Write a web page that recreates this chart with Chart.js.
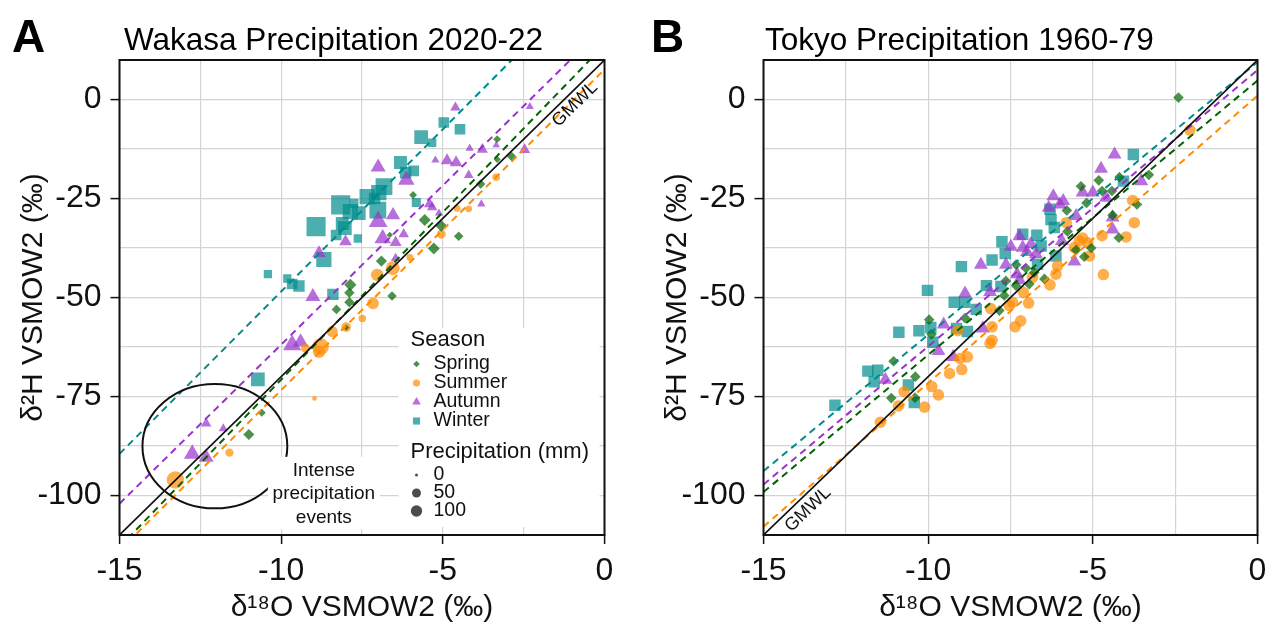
<!DOCTYPE html>
<html>
<head>
<meta charset="utf-8">
<script src="https://cdn.jsdelivr.net/npm/chart.js@4.4.0/dist/chart.umd.min.js"></script>
<style>
  html, body { margin: 0; padding: 0; background: #fff; }
  #wrap { position: relative; width: 1278px; height: 627px; overflow: hidden; }
  canvas { position: absolute; top: 0; }
  #chartA { left: 0; }
  #chartB { left: 640px; }
</style>
</head>
<body>
<div id="wrap">
  <canvas id="chartA" width="635" height="627"></canvas>
  <canvas id="chartB" width="638" height="627"></canvas>
</div>
<script>
/* d18O / d2H scatter, Wakasa 2020-22 vs Tokyo 1960-79 */

const FONT = '"Liberation Sans", Arial, Helvetica, sans-serif';

const seasons = ['Spring', 'Summer', 'Autumn', 'Winter'];
const seasonFill = ['rgba(0,100,0,0.7)', 'rgba(255,140,0,0.7)', 'rgba(153,50,204,0.7)', 'rgba(0,139,139,0.7)'];
const seasonLine = ['#006400', '#ff8c00', '#9932cc', '#008b8b'];
const seasonShape = ['rectRot', 'circle', 'triangle', 'rect'];

const xLimits = [-15, 0];
const yLimits = [-110, 10];
const sizeBreaks = [0, 50, 100];

// global meteoric water line d2H = 8 d18O + 10
const gmwlSlope = 8;
const gmwlIntercept = 10;

/* Wakasa (panel A): d18O, d2H, precipitation mm */
const wakSpringO = [-3.32, -3.32, -2.87, -3.83, -5.92, -5.56, -5.05, -4.51, -5.28, -6.64, -6.9, -7.86, -7.89, -7.89, -6.57, -8.29, -7.99, -10.6, -11.0];
const wakSpringH = [-10.0, -15.1, -14.4, -21.3, -24.1, -30.4, -31.9, -34.5, -37.6, -34.2, -40.8, -46.8, -48.8, -51.2, -49.6, -53.0, -57.6, -79.1, -84.6];
const wakSpringP = [44, 32, 77, 77, 44, 141, 141, 77, 141, 21, 117, 150, 96, 96, 77, 77, 21, 44, 117];

const wakSummerO = [-3.35, -4.2, -4.56, -5.05, -6.02, -6.55, -7.03, -7.16, -7.49, -7.99, -8.42, -8.78, -8.83, -9.25, -8.97, -11.6, -13.27];
const wakSummerH = [-19.6, -27.6, -27.5, -34.0, -39.9, -42.6, -44.3, -51.5, -55.3, -57.5, -58.6, -62.4, -63.7, -62.8, -75.5, -89.2, -96.1];
const wakSummerP = [29, 21, 21, 50, 21, 167, 127, 108, 29, 63, 92, 264, 127, 50, 4, 39, 292];

const wakAutumnO = [-4.61, -2.31, -4.17, -3.78, -3.35, -2.47, -5.23, -4.87, -4.59, -4.2, -3.81, -7.0, -6.13, -5.41, -5.33, -5.12, -6.54, -7.0, -6.21, -6.86, -6.46, -8.01, -8.83, -6.46, -9.02, -9.66, -9.4, -12.32, -11.79, -12.75, -12.32];
const wakAutumnH = [-2.0, -1.8, -12.3, -12.6, -11.5, -12.7, -15.3, -15.4, -15.9, -19.1, -26.4, -17.1, -20.3, -26.4, -27.2, -28.7, -29.2, -30.8, -34.0, -35.1, -36.1, -35.9, -38.8, -40.1, -49.8, -62.0, -61.2, -81.8, -83.1, -89.5, -90.4];
const wakAutumnP = [47, 21, 21, 58, 15, 58, 21, 83, 83, 37, 21, 130, 167, 58, 47, 21, 113, 231, 47, 167, 70, 83, 98, 37, 130, 208, 130, 47, 30, 167, 130];

const wakWinterO = [-4.97, -4.47, -5.67, -5.33, -6.31, -6.15, -5.9, -6.82, -6.98, -7.34, -7.11, -8.16, -7.86, -7.6, -7.01, -8.11, -8.03, -8.92, -8.3, -7.63, -8.68, -5.82, -7.75, -10.41, -9.81, -9.66, -9.45, -8.4, -10.72];
const wakWinterH = [-5.8, -7.5, -9.5, -10.9, -15.9, -18.5, -18.0, -22.0, -23.5, -24.5, -25.0, -26.6, -28.3, -28.7, -27.9, -31.3, -32.5, -32.1, -34.2, -35.1, -40.4, -26.0, -26.2, -44.1, -45.2, -46.6, -47.1, -49.2, -70.7];
const wakWinterP = [85, 85, 167, 41, 144, 103, 85, 276, 218, 218, 103, 376, 218, 167, 276, 144, 167, 376, 85, 41, 218, 54, 54, 41, 41, 85, 103, 103, 167];

// seasonal regression lines (slope, intercept), order Spring, Summer, Autumn, Winter
const wakSlopes = [8.46, 8.1, 8.04, 8.2];
const wakIntercepts = [13.85, 7.6, 18.5, 33.5];

/* Tokyo (panel B): d18O, d2H */
const tokSpringO = [-2.4, -3.3, -4.19, -4.82, -5.36, -4.72, -4.42, -5.19, -5.79, -4.4, -3.66, -4.21, -5.05, -5.26, -5.51, -7.33, -7.03, -6.78, -7.33, -6.93, -6.47, -7.64, -7.69, -7.84, -9.97, -8.88, -9.9, -11.05, -10.39, -11.12, -10.4, -5.77];
const tokSpringH = [0.5, -19.0, -19.6, -20.4, -21.9, -23.1, -23.1, -26.1, -28.0, -29.2, -26.5, -34.9, -37.5, -39.7, -38.0, -41.7, -42.6, -43.7, -47.0, -46.6, -45.3, -45.8, -49.5, -53.3, -55.6, -55.2, -59.3, -66.1, -70.0, -75.4, -75.3, -33.3];

const tokSummerO = [-2.05, -3.79, -3.74, -3.99, -4.72, -5.81, -5.31, -5.41, -5.15, -5.1, -5.56, -4.68, -6.07, -6.12, -6.3, -6.83, -7.11, -6.95, -7.44, -7.54, -8.1, -7.36, -8.06, -8.06, -8.12, -7.19, -9.1, -8.81, -9.03, -8.98, -9.35, -9.89, -9.69, -10.73, -10.9, -10.11, -11.45];
const tokSummerH = [-7.7, -25.5, -31.1, -34.7, -34.4, -31.1, -35.0, -35.7, -36.2, -39.5, -37.4, -44.2, -42.0, -44.1, -46.8, -44.9, -48.7, -51.4, -51.2, -52.0, -52.8, -57.4, -57.4, -60.8, -61.6, -55.9, -58.4, -65.0, -65.4, -68.2, -69.2, -72.5, -74.6, -73.8, -77.4, -77.7, -81.5];

const tokAutumnO = [-4.34, -4.75, -3.53, -6.2, -5.9, -6.0, -5.31, -5.0, -4.6, -6.34, -5.51, -4.4, -4.4, -7.23, -7.49, -7.13, -6.88, -6.73, -7.0, -8.4, -7.64, -7.3, -7.23, -5.56, -5.94, -8.88, -8.12, -9.53, -8.34, -9.69, -9.24, -11.3];
const tokAutumnH = [-13.9, -17.5, -20.6, -24.4, -25.6, -26.5, -23.5, -23.5, -24.8, -27.3, -29.4, -29.8, -32.8, -34.5, -37.2, -37.4, -36.5, -39.0, -38.5, -41.7, -41.7, -44.1, -45.6, -40.9, -35.7, -49.0, -48.6, -56.8, -57.8, -63.5, -65.0, -70.8];

const tokWinterO = [-3.77, -4.07, -6.3, -6.27, -6.17, -7.13, -6.7, -7.76, -7.66, -8.06, -6.57, -6.12, -8.99, -6.68, -10.02, -8.23, -7.79, -9.21, -8.89, -8.54, -10.89, -10.28, -9.92, -9.86, -9.14, -8.81, -11.83, -11.53, -11.64, -10.6, -10.42, -12.83];
const tokWinterH = [-13.9, -20.6, -27.7, -30.3, -32.3, -34.0, -34.3, -35.9, -38.9, -40.5, -37.0, -39.5, -42.2, -41.6, -48.2, -47.0, -47.2, -51.2, -51.2, -53.0, -58.8, -58.4, -57.6, -61.3, -57.8, -58.6, -68.6, -68.4, -71.3, -72.1, -76.5, -77.2];
const tokPrecip = 105; // Tokyo points drawn at one size

const tokSlopes = [6.93, 7.26, 6.98, 6.89];
const tokIntercepts = [4.8, 1.0, 7.45, 9.5];

/* annotation of the intense events in panel A */
const eventCircle = { o: -12.05, h: -87.55, rO: 2.24, rH: 15.72 };
const eventText = ['Intense', 'precipitation', 'events'];
const eventTextAt = { o: -8.68, h: -99.6 };

/* helpers */
const precipRadius = p => 1.5 + 0.42 * Math.sqrt(p);
const shapeScale = { circle: 1, rect: 1.4, triangle: 1.38, rectRot: 0.92 };

function pointSet(i, xs, ys, sizes) {
  const shape = seasonShape[i];
  const rad = ctx => precipRadius(Array.isArray(sizes) ? sizes[ctx.dataIndex] : sizes) * shapeScale[shape];
  return {
    label: seasons[i],
    data: xs.map((x, k) => ({ x: x, y: ys[k] })),
    pointStyle: shape,
    backgroundColor: seasonFill[i],
    borderWidth: 0,
    pointRadius: rad,
    pointHoverRadius: rad,
    showLine: false,
    order: 2
  };
}

function lineSet(slope, intercept, color, dashed) {
  return {
    data: xLimits.map(x => ({ x: x, y: slope * x + intercept })),
    showLine: true,
    borderColor: color,
    borderWidth: dashed ? 2 : 1.6,
    borderDash: dashed ? [7, 5] : [],
    pointRadius: 0,
    pointHoverRadius: 0,
    order: 1
  };
}

function drawShape(ctx, shape, x, y, r) {
  ctx.beginPath();
  if (shape === 'circle') {
    ctx.arc(x, y, r, 0, Math.PI * 2);
  } else if (shape === 'rect') {
    const s = r * Math.SQRT1_2;
    ctx.rect(x - s, y - s, 2 * s, 2 * s);
  } else if (shape === 'triangle') {
    for (let k = 0; k < 3; k++) {
      const a = k * 2 * Math.PI / 3;
      const px = x + Math.sin(a) * r, py = y - Math.cos(a) * r;
      k ? ctx.lineTo(px, py) : ctx.moveTo(px, py);
    }
    ctx.closePath();
  } else {
    ctx.moveTo(x - r, y); ctx.lineTo(x, y - r); ctx.lineTo(x + r, y); ctx.lineTo(x, y + r);
    ctx.closePath();
  }
  ctx.fill();
}

function txt(ctx, s, x, y, size, opts) {
  opts = opts || {};
  ctx.font = (opts.bold ? 'bold ' : '') + size + 'px ' + FONT;
  ctx.fillStyle = opts.color || '#111';
  ctx.textAlign = opts.align || 'left';
  ctx.textBaseline = opts.base || 'middle';
  ctx.fillText(s, x, y);
}

/* letters, titles, frame, GMWL label, circle and legend */
const decor = {
  id: 'decor',
  afterDatasetsDraw(chart, args, o) {
    const { ctx, chartArea: a, scales: { x, y } } = chart;
    ctx.save();

    // GMWL label rotated along the line
    const gx = x.getPixelForValue(o.gmwlAt), gy = y.getPixelForValue(gmwlSlope * o.gmwlAt + gmwlIntercept);
    const ang = Math.atan2(y.getPixelForValue(gmwlSlope * 1 + gmwlIntercept) - y.getPixelForValue(gmwlIntercept), x.getPixelForValue(1) - x.getPixelForValue(0));
    ctx.save();
    ctx.translate(gx - Math.sin(ang) * o.gmwlOff, gy + Math.cos(ang) * o.gmwlOff);
    ctx.rotate(ang);
    txt(ctx, 'GMWL', 0, 0, 18, { align: 'center' });
    ctx.restore();

    if (o.extras) {
      const cx = x.getPixelForValue(eventCircle.o), cy = y.getPixelForValue(eventCircle.h);
      const rx = x.getPixelForValue(eventCircle.o + eventCircle.rO) - cx;
      const ry = cy - y.getPixelForValue(eventCircle.h + eventCircle.rH);
      ctx.beginPath();
      ctx.ellipse(cx, cy, rx, ry, 0, 0, Math.PI * 2);
      ctx.strokeStyle = '#111';
      ctx.lineWidth = 2;
      ctx.stroke();

      // label with white box
      const tx = x.getPixelForValue(eventTextAt.o), ty = y.getPixelForValue(eventTextAt.h);
      ctx.fillStyle = '#fff';
      ctx.fillRect(tx - 56, ty - 37, 112, 72);
      eventText.forEach((s, k) => txt(ctx, s, tx, ty + (k - 1) * 23.5, 19, { align: 'center' }));

      // legend
      const lx = a.right - 206, ly = a.top + 268;
      ctx.fillStyle = '#fff';
      ctx.fillRect(lx, ly, 201, 199);
      txt(ctx, 'Season', lx + 12, ly + 12, 22);
      seasons.forEach((s, k) => {
        ctx.fillStyle = seasonFill[k];
        drawShape(ctx, seasonShape[k], lx + 18, ly + 36 + k * 19, precipRadius(25) * shapeScale[seasonShape[k]]);
        txt(ctx, s, lx + 35, ly + 36 + k * 19, 19.5);
      });
      txt(ctx, 'Precipitation (mm)', lx + 12, ly + 124, 22);
      sizeBreaks.forEach((p, k) => {
        ctx.fillStyle = 'rgba(0,0,0,0.7)';
        drawShape(ctx, 'circle', lx + 18, ly + 147 + k * 18, precipRadius(p));
        txt(ctx, String(p), lx + 35, ly + 147 + k * 18, 19.5);
      });
    }

    // frame
    ctx.strokeStyle = '#111';
    ctx.lineWidth = 2;
    ctx.strokeRect(a.left, a.top, a.right - a.left, a.bottom - a.top);

    // panel letter and title
    txt(ctx, o.letter, o.letterX, 52, 46, { bold: true, base: 'alphabetic', color: '#000' });
    txt(ctx, o.title, o.titleX, 50, 31.5, { base: 'alphabetic', color: '#000' });
    ctx.restore();
  }
};

const isMult = (v, m) => Math.abs(v / m - Math.round(v / m)) < 1e-6;

function scales(yWidth, yTitlePad) {
  const tickFont = { family: FONT, size: 32 };
  const titleFont = { family: FONT, size: 30 };
  return {
    x: {
      type: 'linear', min: xLimits[0], max: xLimits[1],
      afterFit: s => { s.height = 92; },
      ticks: { stepSize: 2.5, includeBounds: false, autoSkip: false, maxRotation: 0, padding: 8, color: '#111', font: tickFont,
        callback: v => (isMult(v, 5) ? String(v) : '') },
      grid: { color: '#d4d4d4', lineWidth: 1.2, tickLength: 9, tickWidth: 1.5,
        tickColor: c => (c.tick && isMult(c.tick.value, 5) ? '#111' : 'rgba(0,0,0,0)') },
      border: { display: false },
      title: { display: true, text: 'δ¹⁸O VSMOW2 (‰)', color: '#111', font: titleFont, padding: { top: 0, bottom: 1 } }
    },
    y: {
      type: 'linear', min: yLimits[0], max: yLimits[1],
      afterFit: s => { s.width = yWidth; },
      ticks: { stepSize: 12.5, includeBounds: false, autoSkip: false, padding: 9, color: '#111', font: tickFont,
        callback: v => (isMult(v, 25) ? String(v) : '') },
      grid: { color: '#d4d4d4', lineWidth: 1.2, tickLength: 9, tickWidth: 1.5,
        tickColor: c => (c.tick && isMult(c.tick.value, 25) ? '#111' : 'rgba(0,0,0,0)') },
      border: { display: false },
      title: { display: true, text: 'δ²H VSMOW2 (‰)', color: '#111', font: titleFont, padding: { top: yTitlePad, bottom: 0 } }
    }
  };
}

function datasets(slopes, intercepts, pts) {
  const lines = slopes.map((s, i) => lineSet(s, intercepts[i], seasonLine[i], true));
  lines.unshift(lineSet(gmwlSlope, gmwlIntercept, '#111', false));
  return lines.concat(pts);
}

const baseOptions = (yWidth, yTitlePad, padRight, deco) => ({
  responsive: false,
  animation: false,
  layout: { padding: { left: 0, right: padRight, top: 60, bottom: 0 } },
  scales: scales(yWidth, yTitlePad),
  plugins: { legend: { display: false }, tooltip: { enabled: false }, decor: deco }
});

new Chart(document.getElementById('chartA'), {
  type: 'scatter',
  data: {
    datasets: datasets(wakSlopes, wakIntercepts, [
      pointSet(0, wakSpringO, wakSpringH, wakSpringP),
      pointSet(1, wakSummerO, wakSummerH, wakSummerP),
      pointSet(2, wakAutumnO, wakAutumnH, wakAutumnP),
      pointSet(3, wakWinterO, wakWinterH, wakWinterP)
    ])
  },
  options: baseOptions(119.5, 16, 30.5, {
    letter: 'A', letterX: 12, title: 'Wakasa Precipitation 2020-22', titleX: 124,
    gmwlAt: -1.15, gmwlOff: 11, extras: true
  }),
  plugins: [decor]
});

new Chart(document.getElementById('chartB'), {
  type: 'scatter',
  data: {
    datasets: datasets(tokSlopes, tokIntercepts, [
      pointSet(0, tokSpringO, tokSpringH, tokPrecip),
      pointSet(1, tokSummerO, tokSummerH, tokPrecip),
      pointSet(2, tokAutumnO, tokAutumnH, tokPrecip),
      pointSet(3, tokWinterO, tokWinterH, tokPrecip)
    ])
  },
  options: baseOptions(123.5, 20, 20.5, {
    letter: 'B', letterX: 11, title: 'Tokyo Precipitation 1960-79', titleX: 125,
    gmwlAt: -13.91, gmwlOff: 12.4, extras: false
  }),
  plugins: [decor]
});
</script>
</body>
</html>
